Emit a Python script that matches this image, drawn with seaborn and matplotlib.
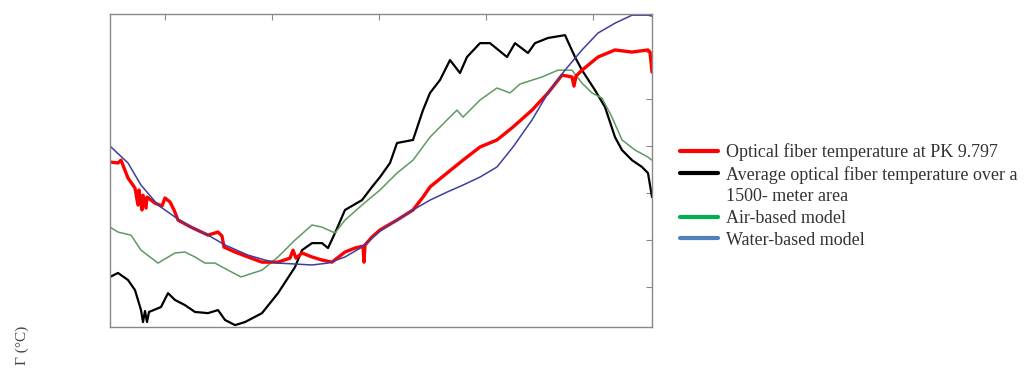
import matplotlib
matplotlib.use("Agg")
import matplotlib.pyplot as plt
from matplotlib.lines import Line2D
import seaborn as sns

# --- DATA (time index along the record, temperature in degC) ---
fiber_x = [0, 8, 11, 18, 25, 28, 29, 32, 33, 36, 37, 45, 52, 55, 60, 64, 68, 81, 98, 108,
           112, 114, 125, 138, 152, 168, 180, 183, 186, 192, 202, 212, 222, 235, 245, 253,
           254, 255, 262, 270, 287, 303, 313, 320, 337, 353, 370, 387, 403, 422, 438, 452,
           462, 464, 466, 472, 488, 505, 522, 538, 540, 542]
fiber_t = [17.32, 17.28, 17.40, 16.64, 16.21, 15.49, 16.13, 15.28, 15.91, 15.36, 15.83,
           15.57, 15.45, 15.79, 15.62, 15.28, 14.85, 14.55, 14.21, 14.34, 14.17, 13.70,
           13.49, 13.28, 13.06, 13.06, 13.23, 13.57, 13.23, 13.45, 13.28, 13.15, 13.06,
           13.49, 13.66, 13.74, 13.06, 13.79, 14.13, 14.43, 14.85, 15.28, 15.83, 16.26,
           16.85, 17.40, 17.96, 18.26, 18.81, 19.53, 20.26, 21.02, 20.94, 20.55, 20.98,
           21.23, 21.79, 22.09, 22.00, 22.09, 22.00, 21.15]

avg_x = [0, 8, 18, 25, 31, 33, 35, 37, 39, 51, 58, 65, 75, 85, 98, 108, 115, 125, 135,
         152, 168, 185, 192, 202, 212, 218, 225, 235, 252, 262, 270, 280, 287, 303, 313,
         320, 330, 340, 350, 357, 370, 380, 397, 405, 418, 425, 438, 455, 465, 472, 485,
         495, 505, 512, 522, 532, 538, 542]
avg_t = [12.43, 12.60, 12.30, 11.87, 11.02, 10.51, 10.98, 10.51, 10.94, 11.15, 11.74,
         11.45, 11.23, 10.94, 10.89, 11.02, 10.60, 10.38, 10.51, 10.89, 11.74, 12.85,
         13.57, 13.87, 13.87, 13.66, 14.30, 15.28, 15.70, 16.26, 16.68, 17.28, 18.13,
         18.26, 19.53, 20.26, 20.81, 21.66, 21.11, 21.79, 22.38, 22.38, 21.79, 22.38,
         21.96, 22.38, 22.60, 22.72, 21.79, 21.23, 20.38, 19.66, 18.38, 17.83, 17.40,
         17.11, 16.85, 15.83]

air_x = [0, 8, 21, 31, 48, 65, 75, 85, 95, 105, 118, 131, 152, 168, 185, 202, 212, 225,
         235, 252, 270, 287, 303, 320, 337, 347, 353, 370, 387, 400, 410, 432, 448, 462,
         472, 482, 492, 502, 512, 525, 538, 542]
air_t = [14.55, 14.34, 14.21, 13.57, 13.02, 13.45, 13.49, 13.28, 13.02, 13.02, 12.72,
         12.43, 12.72, 13.28, 14.00, 14.64, 14.55, 14.30, 14.85, 15.49, 16.13, 16.85,
         17.40, 18.38, 19.11, 19.53, 19.23, 19.96, 20.47, 20.26, 20.64, 20.94, 21.23,
         21.23, 20.68, 20.26, 20.04, 19.23, 18.26, 17.83, 17.53, 17.40]

water_x = [0, 18, 31, 48, 65, 81, 98, 115, 138, 155, 168, 185, 202, 218, 235, 252, 270,
           303, 320, 337, 353, 370, 387, 403, 422, 438, 455, 472, 488, 505, 522, 538, 542]
water_t = [18.00, 17.28, 16.34, 15.49, 14.98, 14.55, 14.21, 13.79, 13.36, 13.15, 13.02,
           12.98, 12.94, 13.02, 13.28, 13.70, 14.38, 15.28, 15.70, 16.04, 16.34, 16.68,
           17.11, 17.96, 19.11, 20.26, 21.23, 22.09, 22.81, 23.23, 23.57, 23.57, 23.53]

labels = ["Optical fiber temperature at PK 9.797",
          "Average optical fiber temperature over a",
          "1500- meter area",
          "Air-based model",
          "Water-based model"]

# --- PLOT ---
sns.set_style("white")
fig = plt.figure(figsize=(10.26, 3.69), dpi=100)
ax = fig.add_axes([110 / 1026, 1 - 327 / 369, 542 / 1026, 313 / 369])

sns.lineplot(x=avg_x, y=avg_t, ax=ax, color="black", linewidth=1.6)
sns.lineplot(x=air_x, y=air_t, ax=ax, color="#5e9a62", linewidth=1.1)
sns.lineplot(x=fiber_x, y=fiber_t, ax=ax, color="#ff0000", linewidth=2.4)
sns.lineplot(x=water_x, y=water_t, ax=ax, color="#3b3f9e", linewidth=1.1)

ax.set_xlim(0, 542)
ax.set_ylim(10.30, 23.62)
ax.set_xticks([55, 162, 269, 376, 483])
ax.set_yticks([12, 14, 16, 18, 20, 22])
ax.tick_params(direction="in", length=4, color="#888888", top=True, right=True,
               labelbottom=False, labelleft=False)
for sp in ax.spines.values():
    sp.set_color("#888888")
    sp.set_linewidth(1.0)
ax.set_xlabel("")
ax.set_ylabel("")

# legend (colours as in the original, which differ from the drawn lines)
handles = [Line2D([], [], color="#ff0000", lw=3),
           Line2D([], [], color="black", lw=3),
           Line2D([], [], color="none"),
           Line2D([], [], color="#00b050", lw=3),
           Line2D([], [], color="#4f81bd", lw=3)]
fig.legend(handles, labels, loc="center left", bbox_to_anchor=(680 / 1026, 1 - 196 / 369),
           frameon=False, borderpad=0, borderaxespad=0, handlelength=2.1,
           handletextpad=0.42, labelspacing=0.26,
           prop={"family": "Liberation Serif", "size": 13}, labelcolor="#333333")

fig.text(22 / 1026, 1 - 345 / 369, "Γ (°C)", rotation=90, ha="center", va="center",
         family="Liberation Serif", fontsize=11, color="#444444")

fig.savefig("out.png", dpi=100)
